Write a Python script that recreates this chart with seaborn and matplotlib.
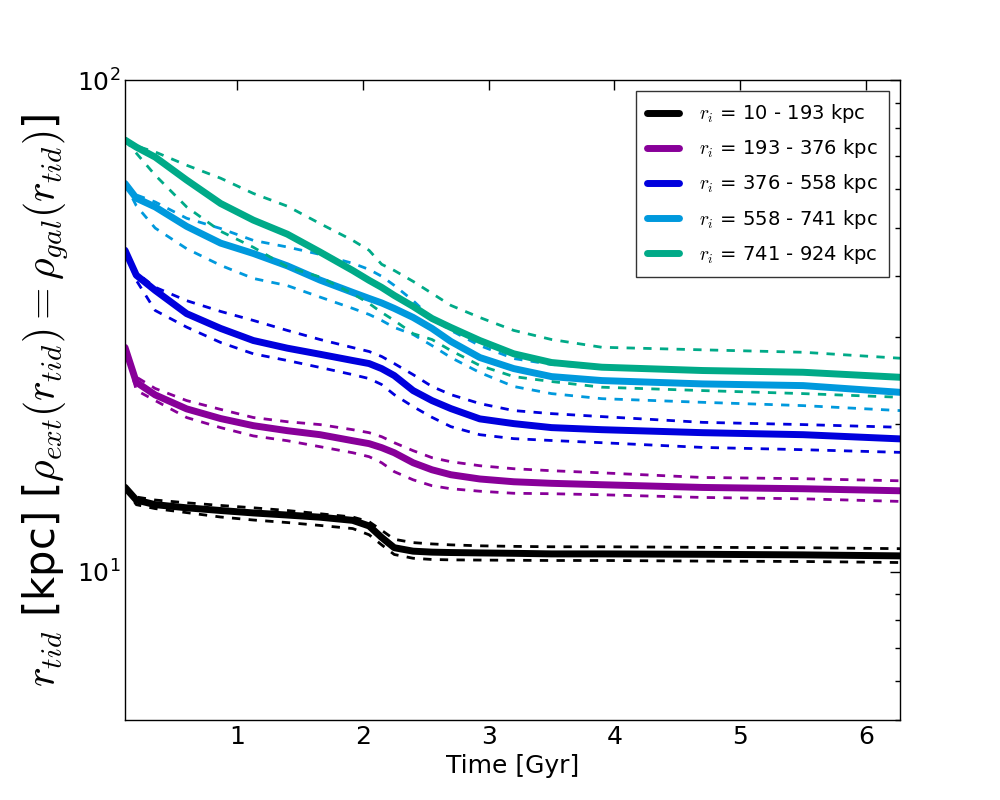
import matplotlib
matplotlib.use("Agg")
import matplotlib.pyplot as plt
import seaborn as sns

# ---- data (time in Gyr, r_tid in kpc) ----
time = [0.11, 0.2, 0.35, 0.6, 0.87, 1.13, 1.4, 1.66, 1.92, 2.05, 2.15,
        2.25, 2.4, 2.55, 2.7, 2.93, 3.2, 3.5, 3.9, 4.7, 5.5, 6.27]

bin_labels = ["10 - 193", "193 - 376", "376 - 558", "558 - 741", "741 - 924"]

# r_i = 10 - 193 kpc
r1_mid = [14.86, 14.0, 13.7, 13.5, 13.33, 13.18, 13.05, 12.92, 12.73, 12.4, 11.75,
          11.2, 11.02, 10.97, 10.95, 10.93, 10.91, 10.88, 10.88, 10.86, 10.83, 10.78]
r1_hi = [14.9, 14.2, 14.0, 13.82, 13.65, 13.5, 13.33, 13.13, 12.93, 12.65, 12.15,
         11.65, 11.47, 11.4, 11.35, 11.3, 11.27, 11.25, 11.25, 11.22, 11.2, 11.15]
r1_lo = [14.8, 13.7, 13.45, 13.2, 12.93, 12.75, 12.6, 12.43, 12.25, 11.9, 11.35,
         10.85, 10.66, 10.6, 10.58, 10.57, 10.56, 10.55, 10.55, 10.52, 10.5, 10.45]

# r_i = 193 - 376 kpc
r2_mid = [28.6, 24.3, 22.9, 21.45, 20.5, 19.83, 19.37, 19.01, 18.48, 18.23, 17.89,
          17.47, 16.67, 16.13, 15.76, 15.45, 15.25, 15.14, 15.04, 14.85, 14.76, 14.62]
r2_hi = [28.6, 24.9, 23.6, 22.3, 21.4, 20.6, 20.2, 19.93, 19.46, 19.19, 18.83,
         18.31, 17.64, 17.07, 16.75, 16.44, 16.21, 16.06, 15.9, 15.56, 15.47, 15.32]
r2_lo = [28.6, 23.4, 22.3, 20.6, 19.65, 18.9, 18.48, 17.97, 17.47, 17.15, 16.67,
         15.99, 15.39, 14.97, 14.76, 14.59, 14.45, 14.42, 14.35, 14.17, 14.08, 13.91]

# r_i = 376 - 558 kpc
r3_mid = [45.06, 40.1, 37.35, 33.5, 31.26, 29.54, 28.5, 27.7, 26.9, 26.52, 25.9,
          25.07, 23.37, 22.3, 21.48, 20.47, 20.02, 19.65, 19.46, 19.19, 19.01, 18.64]
r3_hi = [45.06, 40.6, 37.9, 35.6, 33.85, 32.45, 30.97, 29.68, 28.58, 28.06, 27.41,
         26.52, 25.18, 23.82, 22.93, 21.99, 21.28, 20.98, 20.69, 20.14, 19.93, 19.68]
r3_lo = [45.06, 39.15, 34.0, 31.45, 29.27, 27.76, 26.9, 26.04, 25.18, 24.72, 24.04,
         22.93, 21.68, 20.62, 19.74, 19.01, 18.66, 18.5, 18.31, 17.91, 17.72, 17.5]

# r_i = 558 - 741 kpc
r4_mid = [61.6, 57.5, 55.2, 50.4, 46.6, 44.4, 41.9, 39.2, 37.0, 35.97, 35.22,
          34.33, 32.91, 31.26, 29.41, 27.28, 25.9, 24.95, 24.49, 24.11, 23.92, 23.18]
r4_hi = [61.6, 58.4, 56.5, 52.35, 49.9, 47.2, 45.76, 44.2, 42.4, 41.2, 39.9,
         38.24, 35.6, 32.75, 30.97, 28.85, 27.15, 26.41, 25.9, 25.55, 25.31, 24.72]
r4_lo = [61.6, 55.5, 50.0, 45.4, 42.0, 39.5, 38.2, 36.2, 34.33, 33.37, 32.45,
         31.4, 30.39, 28.85, 27.28, 25.43, 23.82, 23.04, 22.5, 22.12, 21.78, 21.28]

# r_i = 741 - 924 kpc
r5_mid = [75.5, 73.04, 69.7, 62.6, 56.1, 51.9, 48.6, 44.7, 41.0, 39.15, 37.88,
          36.48, 34.65, 32.75, 31.4, 29.54, 27.76, 26.65, 26.07, 25.67, 25.46, 24.87]
r5_hi = [75.5, 73.4, 71.4, 67.1, 63.15, 58.8, 55.4, 51.07, 47.2, 45.06, 42.2,
         41.0, 38.96, 36.83, 34.82, 32.9, 30.97, 29.68, 28.62, 28.28, 27.96, 27.19]
r5_lo = [75.5, 71.0, 64.05, 55.2, 49.26, 45.7, 41.7, 39.76, 36.78, 35.14, 33.69,
         32.45, 30.5, 29.68, 28.19, 26.28, 24.95, 24.38, 23.74, 23.37, 23.04, 22.65]

mids = [r1_mid, r2_mid, r3_mid, r4_mid, r5_mid]
his = [r1_hi, r2_hi, r3_hi, r4_hi, r5_hi]
los = [r1_lo, r2_lo, r3_lo, r4_lo, r5_lo]
colors = ["#000000", "#880099", "#0000DD", "#0099DD", "#00AA88"]

# =========================
# Style
# =========================
sns.set_style("white")
plt.rcParams["font.family"] = ["DejaVu Sans"]
plt.rcParams["mathtext.fontset"] = "cm"
plt.rcParams["axes.edgecolor"] = "black"
plt.rcParams["text.color"] = "black"
plt.rcParams["axes.labelcolor"] = "black"
plt.rcParams["xtick.color"] = "black"
plt.rcParams["ytick.color"] = "black"

fig, ax = plt.subplots(figsize=(10, 8), dpi=100)
fig.subplots_adjust(left=0.125, right=0.9, bottom=0.1, top=0.9)

# =========================
# Lines
# =========================
handles = []
for mid, hi, lo, col in zip(mids, his, los, colors):
    sns.lineplot(x=time, y=mid, color=col, linewidth=5, ax=ax)
    handles.append(ax.lines[-1])
    sns.lineplot(x=time, y=hi, color=col, linewidth=2, linestyle=(0, (3, 3)), ax=ax)
    sns.lineplot(x=time, y=lo, color=col, linewidth=2, linestyle=(0, (3, 3)), ax=ax)

for ln in ax.lines:
    ln.set_solid_joinstyle("round")
    ln.set_dash_joinstyle("round")

ax.set_yscale("log")
ax.set_xlim(time[0], time[-1])
ax.set_ylim(5, 100)
ax.set_xticks([1, 2, 3, 4, 5, 6])

ax.tick_params(which="both", direction="in", top=True, right=True, labelsize=18)
ax.tick_params(which="major", length=7, width=1)
ax.tick_params(which="minor", length=3.5, width=1)
for sp in ax.spines.values():
    sp.set_linewidth(1)

ax.set_xlabel("Time [Gyr]", fontsize=18)
ax.set_ylabel(r"$r_{tid}$ [kpc] [$\rho_{ext}(r_{tid}) = \rho_{gal}(r_{tid})$]",
              fontsize=30)

leg = ax.legend(handles, [r"$r_i$ = " + b + " kpc" for b in bin_labels],
                loc="upper right", fontsize=14, fancybox=False, handlelength=1.65,
                handletextpad=1.0, borderpad=0.6, labelspacing=0.62,
                frameon=True, borderaxespad=0.55)
leg.get_frame().set_edgecolor("black")
leg.get_frame().set_linewidth(1)

fig.savefig("out.png", dpi=100)
